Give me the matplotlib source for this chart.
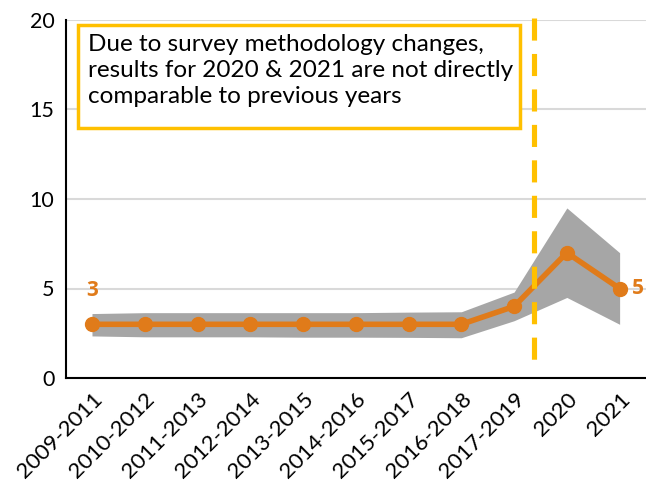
import matplotlib.pyplot as plt
from matplotlib.patches import Rectangle
import numpy as np

periods = ['2009-2011', '2010-2012', '2011-2013', '2012-2014', '2013-2015',
           '2014-2016', '2015-2017', '2016-2018', '2017-2019', '2020', '2021']
rate = [3, 3, 3, 3, 3, 3, 3, 3, 4, 7, 5]
upper = [3.6, 3.65, 3.65, 3.65, 3.65, 3.65, 3.68, 3.7, 4.8, 9.5, 7.0]
lower = [2.35, 2.3, 2.3, 2.3, 2.28, 2.28, 2.27, 2.25, 3.2, 4.5, 3.0]

orange = '#E07B1A'
gold = '#FFC000'
plt.rcParams['font.family'] = ['Lato', 'DejaVu Sans']

fig = plt.figure(figsize=(6.46, 4.97), dpi=100)
ax = fig.add_axes([65.6 / 646, 1 - 378 / 497, 1 - 65.6 / 646, 358 / 497])

x = np.arange(len(periods))
ax.fill_between(x, lower, upper, color='#A6A6A6', linewidth=0, zorder=2)
ax.plot(x, rate, color=orange, linewidth=4, marker='o', markersize=10, zorder=3,
        clip_on=False)

# break in the series: survey method changed from 2020, drawn top-down
ax.plot([8.37, 8.37], [20.1, 0.33], color=gold, linewidth=3.7,
        dashes=(4.3, 2.6), dash_capstyle='butt', zorder=4, clip_on=False)

ax.annotate(str(rate[0]), (x[0], rate[0]), xytext=(0, 34), textcoords='offset pixels',
            ha='center', va='center', color=orange, fontsize=15, fontweight='bold',
            family='Open Sans')
ax.annotate(str(rate[-1]), (x[-1], rate[-1]), xytext=(18, 0), textcoords='offset pixels',
            ha='center', va='center', color=orange, fontsize=15, fontweight='bold',
            family='Open Sans', annotation_clip=False)

# note about the methodology change
ax.add_patch(Rectangle((0.0214, 0.698), 0.762, 0.288, transform=ax.transAxes,
                       facecolor='white', edgecolor=gold, linewidth=2.5, zorder=5))
ax.text(0.0386, 0.962,
        'Due to survey methodology changes,\nresults for 2020 & 2021 are not directly\ncomparable to previous years',
        transform=ax.transAxes, ha='left', va='top', fontsize=17.5, linespacing=1.3,
        zorder=6)

ax.set_xlim(-0.5, len(periods) - 0.5)
ax.set_ylim(0, 20)
ax.set_yticks([0, 5, 10, 15, 20])
ax.set_xticks(x)
ax.set_xticklabels(periods, rotation=45, ha='right', rotation_mode='anchor')
ax.tick_params(length=0, labelsize=16, pad=8)
ax.tick_params(axis='y', labelsize=15.5)
ax.grid(axis='y', color='#D9D9D9', linewidth=1.5, zorder=0)
ax.set_axisbelow(True)
for side in ['top', 'right']:
    ax.spines[side].set_visible(False)
for side in ['left', 'bottom']:
    ax.spines[side].set_linewidth(1.5)

fig.savefig('out.png', dpi=100)
